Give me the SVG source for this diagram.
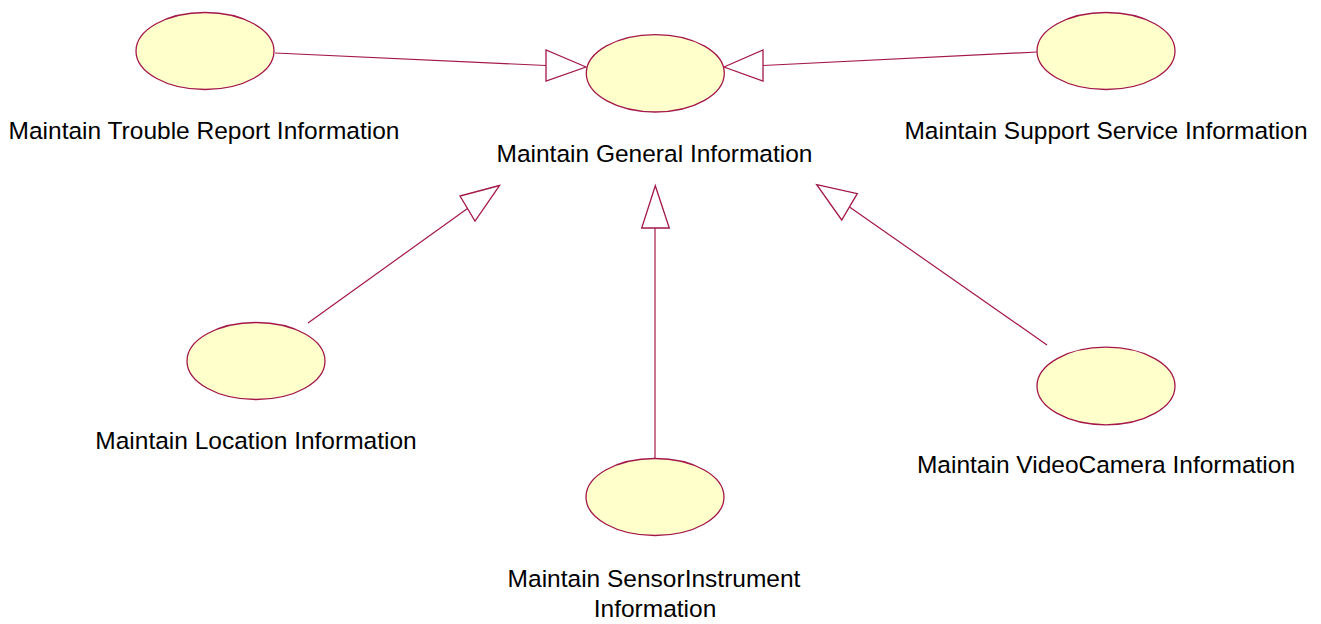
<svg xmlns="http://www.w3.org/2000/svg" width="1321" height="624" viewBox="0 0 1321 624">
<style>
.uc{fill:#ffffcc;stroke:#a3174a;stroke-width:1.3}
.ln{stroke:#a3174a;stroke-width:1.2;fill:none}
.ah{fill:#ffffff;stroke:#a3174a;stroke-width:1.3;stroke-linejoin:miter}
.lb{font-family:"Liberation Sans",Arial,sans-serif;font-size:24.5px;fill:#000;text-anchor:middle}
</style>
<rect width="1321" height="624" fill="#ffffff"/>
<g id="connectors">
<line class="ln" x1="275" y1="53" x2="546" y2="65.5"/>
<polygon class="ah" points="586,67 546,50 546,81"/>
<line class="ln" x1="1037" y1="52" x2="763" y2="65.5"/>
<polygon class="ah" points="724,67 763,50 763,81"/>
<line class="ln" x1="308" y1="323" x2="467.5" y2="208.5"/>
<polygon class="ah" points="499.5,185.5 460,196 475,221"/>
<line class="ln" x1="655" y1="459" x2="655" y2="228"/>
<polygon class="ah" points="655.3,185.7 641.7,228 669.3,228"/>
<line class="ln" x1="1047" y1="345" x2="849.5" y2="207"/>
<polygon class="ah" points="816.7,184.7 857.3,193.7 841.7,220"/>
</g>
<g id="trouble">
<ellipse class="uc" cx="205" cy="51" rx="69" ry="38.5"/>
<text class="lb" x="204" y="138.5">Maintain Trouble Report Information</text>
</g>
<g id="general">
<ellipse class="uc" cx="655.3" cy="73.3" rx="69" ry="38.7"/>
<text class="lb" x="654.5" y="161.5">Maintain General Information</text>
</g>
<g id="support">
<ellipse class="uc" cx="1106" cy="51" rx="69" ry="38.5"/>
<text class="lb" x="1106" y="138.5">Maintain Support Service Information</text>
</g>
<g id="location">
<ellipse class="uc" cx="256" cy="361" rx="69" ry="38.5"/>
<text class="lb" x="256" y="449">Maintain Location Information</text>
</g>
<g id="sensor">
<ellipse class="uc" cx="655" cy="497" rx="69" ry="38.5"/>
<text class="lb" x="654" y="586.5">Maintain SensorInstrument</text>
<text class="lb" x="655" y="617">Information</text>
</g>
<g id="videocamera">
<ellipse class="uc" cx="1106" cy="386" rx="69" ry="38.8"/>
<text class="lb" x="1106" y="473">Maintain VideoCamera Information</text>
</g>
</svg>
